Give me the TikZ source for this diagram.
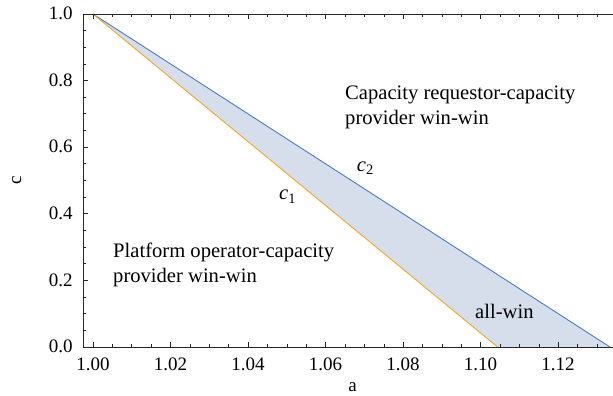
\documentclass[tikz,border=0pt]{standalone}
\usepackage{fontspec}
\setmainfont{Liberation Serif}
\definecolor{fillc}{RGB}{214,222,236}
\definecolor{bluec}{RGB}{74,125,190}
\definecolor{orangec}{RGB}{245,166,35}
\tikzset{
  frameline/.style={line width=0.9bp, black!85},
  tickline/.style={line width=0.8bp, black!85},
  curveline/.style={line width=0.9bp},
  lbl/.style={inner sep=0pt, font=\fontsize{20.6bp}{25bp}\selectfont, align=left},
  ticklbl/.style={inner sep=0pt, font=\fontsize{19bp}{22bp}\selectfont},
}
\begin{document}
\begin{tikzpicture}
\useasboundingbox (0,0) rectangle (613bp,396bp);
\begin{scope}[x=3875bp, y=333bp, shift={(93bp,49bp)}]
  \coordinate (top) at (0,1);
  \coordinate (c1end) at (0.1044,0);
  \coordinate (c2end) at (0.1334,0);
  \coordinate (fbl) at (-0.00258,0);
  \coordinate (ftl) at (-0.00258,1);
  \coordinate (fbr) at (0.1342,0);
  \coordinate (ftr) at (0.1342,1);
  % filled region
  \fill[fillc] (top) -- (c1end) -- (c2end) -- cycle;
  \draw[curveline, bluec] (top) -- (c2end);
  \draw[curveline, orangec] (top) -- (c1end);
  % frame
  \draw[frameline] (ftr) -- (ftl) -- (fbl) -- (fbr);
  % x ticks
  \foreach \i in {0,...,26} {
    \pgfmathsetmacro\len{ifthenelse(mod(\i,4)==0,5,3)}
    \draw[tickline] (\i*0.005,0) -- ++(0,\len bp);
    \draw[tickline] (\i*0.005,1) -- ++(0,-\len bp);
  }
  % y ticks
  \foreach \i in {1,...,19} {
    \pgfmathsetmacro\len{ifthenelse(mod(\i,4)==0,5,3)}
    \draw[tickline] (-0.00258,\i*0.05) -- ++(\len bp,0);
  }
  % x tick labels
  \foreach \v/\t [count=\k] in {0/1.00,0.02/1.02,0.04/1.04,0.06/1.06,0.08/1.08,0.10/1.10,0.12/1.12} {
    \node[ticklbl, anchor=base, yshift=-23.7bp] (xl\k) at (\v,0) {\t};
  }
  % y tick labels
  \foreach \v/\t [count=\k] in {0/0.0,0.2/0.2,0.4/0.4,0.6/0.6,0.8/0.8,1/1.0} {
    \node[ticklbl, anchor=base east, xshift=-10.3bp, yshift=-5.8bp] (yl\k) at (-0.00258,\v) {\t};
  }
\end{scope}
% axis labels
\node[ticklbl] (xlabel) at (352.7bp,9.3bp) {a};
\node[ticklbl, rotate=90] (ylabel) at (16.7bp,216bp) {c};
% region labels (base anchor = last line baseline)
\node[lbl, anchor=base west] (capreq) at (345bp,271bp) {Capacity requestor-capacity\\provider win-win};
\node[lbl, anchor=base west] (platop) at (113bp,113.3bp) {Platform operator-capacity\\provider win-win};
\node[lbl, anchor=base west] (allwin) at (475bp,77.7bp) {all-win};
% curve labels
\node[lbl, anchor=base west] (c2lbl) at (356.7bp,224.3bp) {\textit{c}\textsubscript{2}};
\node[lbl, anchor=base west] (c1lbl) at (279bp,196bp) {\textit{c}\textsubscript{1}};
\end{tikzpicture}
\end{document}
